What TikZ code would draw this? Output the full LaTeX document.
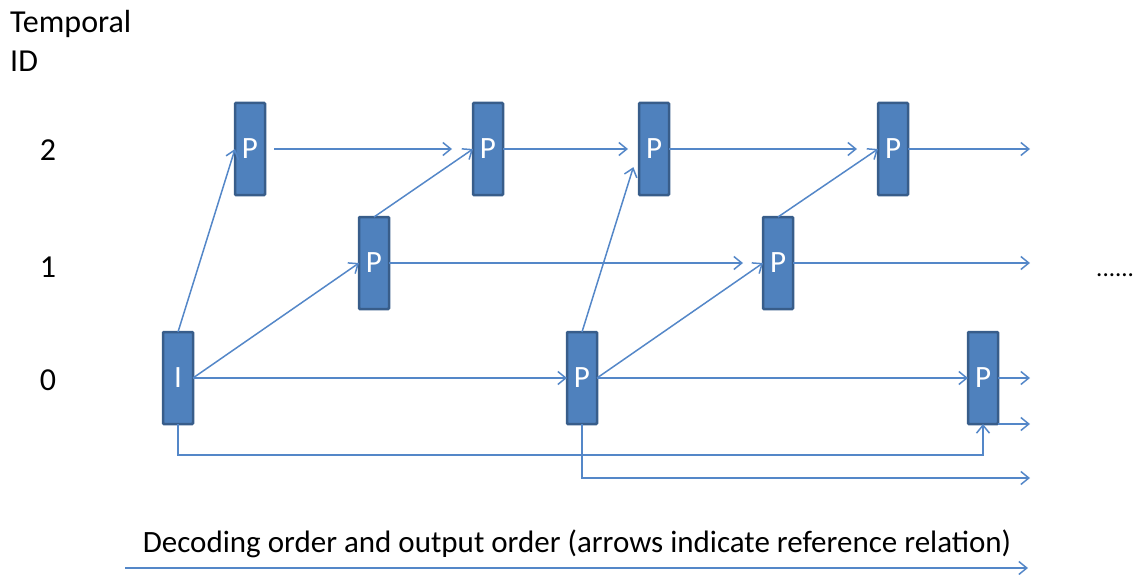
\documentclass[tikz,border=0pt]{standalone}
\usepackage{fontspec}
\setmainfont{Carlito}
\usetikzlibrary{arrows.meta,calc}
\definecolor{boxfill}{RGB}{79,129,189}
\definecolor{boxline}{RGB}{56,93,138}
\definecolor{arrcol}{RGB}{84,135,200}
\begin{document}
\begin{tikzpicture}[x=1pt,y=-1pt,
  picbox/.style={draw=boxline, fill=boxfill, line width=2.5pt, minimum width=30pt, minimum height=92pt,
    inner sep=0pt, outer sep=0pt, text=white, font=\fontsize{31}{36}\selectfont, rounded corners=1pt},
  ref/.style={draw=arrcol, line width=1.5pt, -{Straight Barb[length=8pt,width=13pt,line width=1.5pt]}},
  lbl/.style={inner sep=0pt, font=\fontsize{32}{38}\selectfont, text=black}]
\useasboundingbox (0,0) rectangle (1138,575);
% labels
\node[lbl, anchor=base west] (tid1) at (10,33) {Temporal};
\node[lbl, anchor=base west] (tid2) at (10,72) {ID};
\node[lbl] (l2) at (48,150) {2};
\node[lbl] (l1) at (48,267) {1};
\node[lbl] (l0) at (48,380) {0};
\node[lbl, anchor=base west, font=\fontsize{25}{30}\selectfont] (dots) at (1096,276) {......};
\node[lbl, anchor=base, font=\fontsize{31}{36}\selectfont] (cap) at (577,552) {Decoding order and output order (arrows indicate reference relation)};
% pictures
\node[picbox] (I)   at (178,378) {I};
\node[picbox] (P2a) at (250,149) {P};
\node[picbox] (P1a) at (374,263) {P};
\node[picbox] (P2b) at (488,149) {P};
\node[picbox] (P2c) at (654,149) {P};
\node[picbox] (P0a) at (582,378) {P};
\node[picbox] (P1b) at (778,263) {P};
\node[picbox] (P2d) at (893,149) {P};
\node[picbox] (P0b) at (983,378) {P};
% free ends
\coordinate (e2) at (1030,149);
\coordinate (e1) at (1030,263);
\coordinate (e0) at (1030,378);
\coordinate (e0b) at (1030,424);
\coordinate (e0c) at (1030,478);
\coordinate (c1) at (983,455);
\coordinate (t0) at (125,568);
\coordinate (t1) at (1028,568);
% references
\draw[ref] (I.north) -- (P2a.west);
\draw[ref] (I.east) -- (P1a.west);
\draw[ref] (I.east) -- (P0a.west);
\draw[ref] (I.south) |- (c1) -- (P0b.south);
\draw[ref, shorten <=9pt, shorten >=21pt] (P2a.east) -- (P2b.west);
\draw[ref] (P1a.north) -- (P2b.west);
\draw[ref, shorten >=20pt] (P1a.east) -- (P1b.west);
\draw[ref, shorten >=11pt] (P2b.east) -- (P2c.west);
\draw[ref, shorten >=19pt] (P0a.north) -- (P2c.west);
\draw[ref] (P0a.east) -- (P1b.west);
\draw[ref] (P0a.east) -- (P0b.west);
\draw[ref] (P0a.south) |- (e0c);
\draw[ref, shorten >=21pt] (P2c.east) -- (P2d.west);
\draw[ref] (P1b.north) -- (P2d.west);
\draw[ref] (P2d.east) -- (e2);
\draw[ref] (P1b.east) -- (e1);
\draw[ref] (P0b.east) -- (e0);
\draw[ref] (P0b.south east) -- (P0b.south east -| e0b);
\draw[ref] (t0) -- (t1);
\end{tikzpicture}
\end{document}
